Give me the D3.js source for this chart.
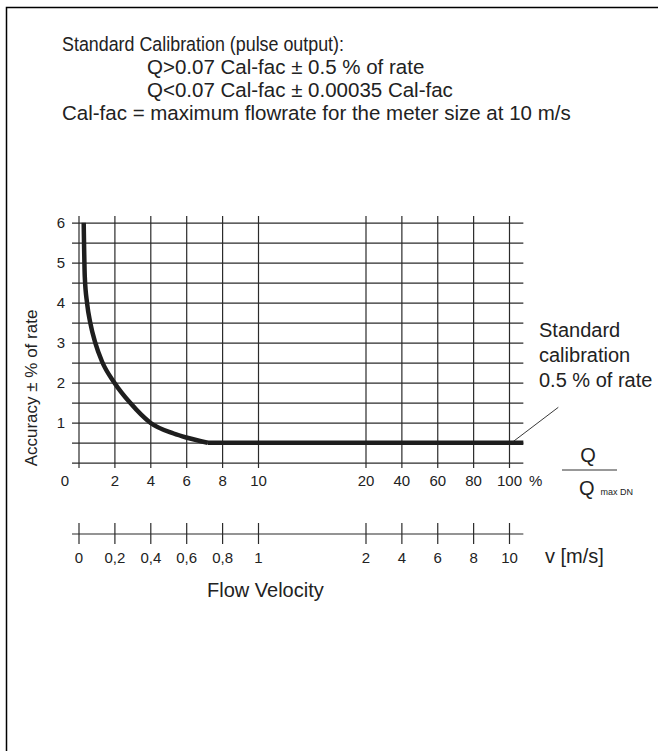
<!DOCTYPE html>
<html>
<head>
<meta charset="utf-8">
<script src="https://cdn.jsdelivr.net/npm/d3@7"></script>
<style>
  html, body { margin: 0; padding: 0; background: #fff; }
  svg text { font-family: "Liberation Sans", Arial, Helvetica, sans-serif; fill: #222; }
</style>
</head>
<body>
<svg id="chart" width="658" height="751"></svg>
<script>
// Flow rate (% of Q max DN) and measuring accuracy (± % of rate)
const flowPct  = [0.29, 0.35, 0.48, 0.66, 0.94, 1.31, 2.0, 2.89, 4.0, 5.3, 6.0, 7.2];
const accuracy = [6.0, 4.65, 3.98, 3.49, 2.99, 2.53, 2.0, 1.49, 1.0, 0.73, 0.63, 0.5];
// Flat standard calibration band: 0.5 % of rate up to the end of the scale
const flatFlow = [7.2, 108];
const flatAcc  = [0.5, 0.5];

// Tick values
const qTicks   = [0, 2, 4, 6, 8, 10, 20, 40, 60, 80, 100];
const accTicks = [0, 0.5, 1, 1.5, 2, 2.5, 3, 3.5, 4, 4.5, 5, 5.5, 6];
const vTicks   = [0, 0.2, 0.4, 0.6, 0.8, 1, 2, 4, 6, 8, 10];

const titleLines = [
  "Standard Calibration (pulse output):",
  "Q>0.07 Cal-fac \u00b1 0.5 % of rate",
  "Q<0.07 Cal-fac \u00b1 0.00035 Cal-fac",
  "Cal-fac = maximum flowrate for the meter size at 10 m/s"
];
const noteLines = ["Standard", "calibration", "0.5 % of rate"];

const svg = d3.select("#chart");
const gridColor = "#2b2b2b";
const big = 20;

// Frame (top and left edges)
svg.append("path")
  .attr("d", "M6.5,751 V7.5 H658")
  .attr("fill", "none").attr("stroke", "#000").attr("stroke-width", 1.5);

// Broken flow axis: 0..10 stretched, then 20..100
const xDomain = [0, 10, 20, 100];
const xRange = [78.5, 258, 365.5, 509];
const x = d3.scaleLinear().domain(xDomain).range(xRange);
// Velocity in m/s: 100 % of Q max DN corresponds to 10 m/s
const xv = d3.scaleLinear().domain(xDomain.map(d => d / 10)).range(xRange);
const y = d3.scaleLinear().domain([0, 6]).range([462.7, 222.7]);
const xLeft = 72, xRight = x(108);

// Horizontal grid lines + accuracy labels
const yAxis = d3.axisLeft(y)
  .tickValues(accTicks)
  .tickSize(-(xRight - xLeft))
  .tickPadding(7)
  .tickFormat(d => (d > 0 && Number.isInteger(d)) ? d : "");
const gy = svg.append("g").attr("transform", `translate(${xLeft},0)`).call(yAxis);
gy.select(".domain").remove();
gy.selectAll(".tick line").attr("stroke", gridColor).attr("stroke-width", 1.2);
gy.selectAll(".tick text").attr("font-size", 15).attr("fill", "#333");

// Vertical grid lines + flow labels
const gTop = 216, gBottom = 468;
const xAxis = d3.axisBottom(x)
  .tickValues(qTicks)
  .tickSize(-(gBottom - gTop))
  .tickPadding(7)
  .tickFormat(d3.format("d"));
const gx = svg.append("g").attr("transform", `translate(0,${gBottom})`).call(xAxis);
gx.select(".domain").remove();
gx.selectAll(".tick line").attr("stroke", gridColor).attr("stroke-width", 1.2);
gx.selectAll(".tick text").attr("font-size", 15).attr("fill", "#333")
  .attr("dx", d => d === 0 ? -14 : 0);
svg.append("text").attr("x", x(100) + 20).attr("y", 486)
  .attr("font-size", 15).attr("fill", "#333").text("%");

// Accuracy curve
const curvePts = flowPct.map((q, i) => [x(q), y(accuracy[i])]);
svg.append("path")
  .attr("d", d3.line().curve(d3.curveMonotoneX)(curvePts))
  .attr("fill", "none").attr("stroke", "#1e1e1e").attr("stroke-width", 4.5)
  .attr("stroke-linejoin", "round");
svg.append("path")
  .attr("d", d3.line()(flatFlow.map((q, i) => [x(q), y(flatAcc[i])])))
  .attr("fill", "none").attr("stroke", "#1e1e1e").attr("stroke-width", 4.5);

// Leader line to the note
svg.append("line")
  .attr("x1", x(101.5)).attr("y1", y(0.5))
  .attr("x2", 558.3).attr("y2", 407.3)
  .attr("stroke", "#222").attr("stroke-width", 0.9);
svg.append("g").selectAll("text").data(noteLines).join("text")
  .attr("x", 539).attr("y", (d, i) => 337 + i * 25)
  .attr("font-size", big).text(d => d);

// Q / Q max DN fraction
svg.append("text").attr("x", 588).attr("y", 462).attr("text-anchor", "middle")
  .attr("font-size", big).text("Q");
svg.append("line").attr("x1", 562).attr("x2", 617).attr("y1", 470).attr("y2", 470)
  .attr("stroke", "#333").attr("stroke-width", 1);
const qmax = svg.append("text").attr("x", 579).attr("y", 495).attr("font-size", big);
qmax.append("tspan").text("Q");
qmax.append("tspan").attr("dx", 6).attr("font-size", 9).text("max DN");

// Velocity axis
const vy = 534;
svg.append("line").attr("x1", xLeft).attr("x2", xRight).attr("y1", vy).attr("y2", vy)
  .attr("stroke", gridColor).attr("stroke-width", 1.2);
const vAxis = d3.axisBottom(xv)
  .tickValues(vTicks)
  .tickSize(-21)
  .tickPadding(8)
  .tickFormat(d => String(d).replace(".", ","));
const gv = svg.append("g").attr("transform", `translate(0,${vy + 10})`).call(vAxis);
gv.select(".domain").remove();
gv.selectAll(".tick line").attr("stroke", gridColor).attr("stroke-width", 1.2);
gv.selectAll(".tick text").attr("font-size", 15).attr("fill", "#333");
svg.append("text").attr("x", 545).attr("y", 563).attr("font-size", big).text("v [m/s]");
svg.append("text").attr("x", 207).attr("y", 597).attr("font-size", big).text("Flow Velocity");

// Y title
svg.append("text")
  .attr("transform", "translate(37,388) rotate(-90)")
  .attr("text-anchor", "middle").attr("font-size", 17)
  .text("Accuracy \u00b1 % of rate");

// Header text (first line set a little tighter)
svg.append("g").selectAll("text").data(titleLines).join("text")
  .attr("x", (d, i) => (i === 1 || i === 2) ? 147 : 62)
  .attr("y", (d, i) => 51 + i * 23)
  .attr("font-size", 20.5)
  .each(function (d, i) {
    if (i === 0) d3.select(this).attr("textLength", 282).attr("lengthAdjust", "spacingAndGlyphs");
  })
  .text(d => d);
</script>
</body>
</html>
